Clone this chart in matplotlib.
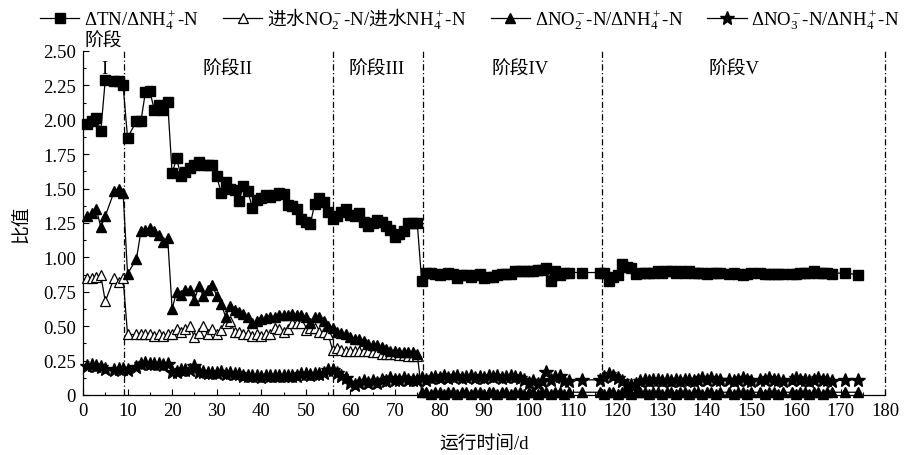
import matplotlib
matplotlib.use("Agg")
import matplotlib.pyplot as plt
from matplotlib.ticker import MultipleLocator, FuncFormatter

plt.rcParams['font.family'] = ['Liberation Serif', 'Noto Sans CJK SC']
plt.rcParams['mathtext.fontset'] = 'custom'
plt.rcParams['mathtext.rm'] = 'Liberation Serif'
plt.rcParams['mathtext.it'] = 'Liberation Serif:italic'
plt.rcParams['mathtext.sf'] = 'Noto Sans CJK SC'
plt.rcParams['axes.unicode_minus'] = False

# ---------------- data ----------------
days_123 = [1, 2, 3, 4, 5, 7, 8, 9,
            10, 12, 13, 14, 15, 16, 17, 18, 19, 20,
            21, 22, 23, 24, 25, 26, 27, 28, 29, 30,
            31, 32, 33, 34, 35, 36, 37, 38, 39, 40,
            41, 42, 43, 44, 45, 46, 47, 48, 49, 50,
            51, 52, 53, 54, 55,
            56, 57, 58, 59, 60, 61, 62, 63, 64, 65,
            66, 67, 68, 69, 70, 71, 72, 73, 74, 75]

tn_123 = [1.97, 1.99, 2.01, 1.92, 2.29, 2.28, 2.28, 2.25,
          1.87, 1.99, 1.99, 2.20, 2.21, 2.07, 2.11, 2.07, 2.13, 1.61,
          1.72, 1.59, 1.62, 1.65, 1.67, 1.69, 1.67, 1.67, 1.67, 1.59,
          1.47, 1.55, 1.50, 1.49, 1.41, 1.52, 1.48, 1.36, 1.42, 1.43,
          1.45, 1.44, 1.45, 1.47, 1.46, 1.38, 1.37, 1.35, 1.28, 1.26,
          1.24, 1.39, 1.43, 1.40, 1.33,
          1.28, 1.30, 1.33, 1.35, 1.31, 1.30, 1.32, 1.26, 1.23, 1.25,
          1.27, 1.26, 1.23, 1.20, 1.15, 1.17, 1.19, 1.25, 1.25, 1.25]

inf_123 = [0.85, 0.85, 0.86, 0.87, 0.68, 0.85, 0.82, 0.85,
           0.44, 0.44, 0.44, 0.44, 0.44, 0.43, 0.44, 0.43, 0.44, 0.44,
           0.48, 0.46, 0.48, 0.50, 0.42, 0.45, 0.50, 0.44, 0.48, 0.44,
           0.47, 0.52, 0.54, 0.46, 0.455, 0.44, 0.44, 0.43, 0.44, 0.43,
           0.44, 0.44, 0.49, 0.48, 0.46, 0.48, 0.52, 0.52, 0.52, 0.47,
           0.49, 0.49, 0.455, 0.46, 0.44,
           0.33, 0.34, 0.33, 0.32, 0.32, 0.32, 0.32, 0.32, 0.32, 0.31,
           0.31, 0.30, 0.30, 0.30, 0.30, 0.29, 0.29, 0.28, 0.28, 0.28]

no2_123 = [1.30, 1.32, 1.35, 1.22, 1.30, 1.48, 1.50, 1.47,
           0.88, 0.99, 1.19, 1.20, 1.21, 1.19, 1.16, 1.11, 1.14, 0.625,
           0.75, 0.73, 0.76, 0.76, 0.69, 0.79, 0.72, 0.76, 0.80, 0.72,
           0.66, 0.57, 0.65, 0.62, 0.60, 0.59, 0.57, 0.52, 0.54, 0.55,
           0.56, 0.565, 0.57, 0.58, 0.58, 0.58, 0.585, 0.58, 0.58, 0.57,
           0.52, 0.565, 0.565, 0.54, 0.50,
           0.49, 0.455, 0.45, 0.44, 0.42, 0.41, 0.41, 0.395, 0.37, 0.36,
           0.36, 0.35, 0.335, 0.32, 0.32, 0.31, 0.31, 0.31, 0.31, 0.30]

no3_123 = [0.21, 0.22, 0.21, 0.20, 0.19, 0.18, 0.19, 0.19,
           0.185, 0.20, 0.225, 0.23, 0.225, 0.225, 0.225, 0.22, 0.225, 0.165,
           0.17, 0.18, 0.185, 0.185, 0.21, 0.17, 0.165, 0.16, 0.16, 0.16,
           0.17, 0.15, 0.16, 0.15, 0.15, 0.14, 0.135, 0.14, 0.14, 0.13,
           0.14, 0.14, 0.14, 0.14, 0.135, 0.14, 0.14, 0.14, 0.15, 0.15,
           0.145, 0.15, 0.155, 0.16, 0.18,
           0.18, 0.16, 0.14, 0.12, 0.09, 0.07, 0.09, 0.10, 0.09, 0.10,
           0.09, 0.11, 0.10, 0.12, 0.11, 0.11, 0.12, 0.11, 0.11, 0.11]

days_45 = [76, 77, 78, 79, 80, 81, 82, 83, 84, 85,
           86, 87, 88, 89, 90, 91, 92, 93, 94, 95,
           96, 97, 98, 99, 100, 101, 102, 103, 104, 105,
           106, 107, 108, 109, 112, 116, 117, 118, 119, 120,
           121, 122, 123, 124, 125, 126, 127, 128, 129, 130,
           131, 132, 133, 134, 135, 136, 137, 138, 139, 140,
           141, 142, 143, 145, 146, 147, 148, 149, 150, 152,
           153, 154, 155, 156, 157, 159, 160, 161, 162, 163,
           164, 165, 166, 167, 168, 171, 174]

tn_45 = [0.83, 0.89, 0.89, 0.88, 0.87, 0.88, 0.89, 0.88, 0.85, 0.87,
         0.87, 0.86, 0.87, 0.88, 0.85, 0.86, 0.86, 0.87, 0.88, 0.88,
         0.88, 0.90, 0.90, 0.90, 0.90, 0.90, 0.91, 0.91, 0.92, 0.83,
         0.90, 0.87, 0.89, 0.89, 0.89, 0.89, 0.89, 0.83, 0.86, 0.87,
         0.95, 0.93, 0.92, 0.88, 0.89, 0.89, 0.89, 0.89, 0.90, 0.89,
         0.90, 0.90, 0.89, 0.90, 0.89, 0.90, 0.89, 0.89, 0.89, 0.88,
         0.89, 0.89, 0.89, 0.88, 0.89, 0.88, 0.87, 0.88, 0.89, 0.89,
         0.88, 0.88, 0.88, 0.88, 0.88, 0.88, 0.88, 0.89, 0.89, 0.89,
         0.90, 0.89, 0.89, 0.89, 0.88, 0.89, 0.87]

no2_45 = [0.02, 0.02, 0.01, 0.02, 0.02, 0.01, 0.02, 0.02, 0.01, 0.02,
          0.02, 0.01, 0.02, 0.02, 0.01, 0.02, 0.02, 0.01, 0.02, 0.02,
          0.01, 0.02, 0.02, 0.01, 0.02, 0.02, 0.01, 0.02, 0.02, 0.01,
          0.02, 0.02, 0.01, 0.02, 0.02, 0.02, 0.01, 0.02, 0.02, 0.01,
          0.02, 0.02, 0.01, 0.02, 0.02, 0.02, 0.01, 0.02, 0.02, 0.01,
          0.02, 0.02, 0.01, 0.02, 0.02, 0.01, 0.02, 0.02, 0.01, 0.02,
          0.02, 0.01, 0.02, 0.02, 0.01, 0.02, 0.02, 0.01, 0.02, 0.02,
          0.01, 0.02, 0.02, 0.01, 0.02, 0.02, 0.01, 0.02, 0.02, 0.01,
          0.02, 0.02, 0.01, 0.02, 0.02, 0.02, 0.02]

no3_45 = [0.12, 0.11, 0.12, 0.13, 0.12, 0.14, 0.12, 0.13, 0.14, 0.12,
          0.13, 0.14, 0.12, 0.13, 0.12, 0.14, 0.13, 0.14, 0.12, 0.13,
          0.14, 0.13, 0.12, 0.11, 0.09, 0.10, 0.08, 0.10, 0.17, 0.11,
          0.13, 0.14, 0.10, 0.10, 0.11, 0.11, 0.13, 0.15, 0.14, 0.12,
          0.10, 0.07, 0.075, 0.08, 0.10, 0.11, 0.10, 0.11, 0.11, 0.10,
          0.11, 0.10, 0.11, 0.10, 0.11, 0.11, 0.10, 0.11, 0.12, 0.11,
          0.12, 0.11, 0.11, 0.11, 0.10, 0.11, 0.12, 0.11, 0.10, 0.11,
          0.11, 0.12, 0.11, 0.11, 0.10, 0.11, 0.12, 0.11, 0.11, 0.10,
          0.11, 0.12, 0.11, 0.11, 0.10, 0.11, 0.11]

stage_bounds = [9.3, 56.2, 76.2, 116.4, 180]
stage_labels = ['I', '阶段II', '阶段III', '阶段IV', '阶段V']
stage_label_x = [4.8, 32.5, 66, 98, 146]

labels = ['ΔTN/ΔNH$_4^+$-N',
          r'$\mathsf{进水}$NO$_2^-$-N/$\mathsf{进水}$NH$_4^+$-N',
          'ΔNO$_2^-$-N/ΔNH$_4^+$-N',
          'ΔNO$_3^-$-N/ΔNH$_4^+$-N']

# ---------------- plot ----------------
fig = plt.figure(figsize=(9.06, 4.56), dpi=100)
ax = fig.add_axes([0.0916, 0.1316, 0.8854, 0.7544])

fs = 13.5
lw = 0.9
days_all = days_123 + days_45

ax.plot(days_all, tn_123 + tn_45, color='black', lw=lw, marker='s', ms=6.5,
        mfc='black', mec='black', label=labels[0], clip_on=False, zorder=4)
ax.plot(days_123, inf_123, color='black', lw=lw, marker='^', ms=7.5,
        mfc='white', mec='black', mew=0.9, label=labels[1], clip_on=False, zorder=3)
ax.plot(days_all, no2_123 + no2_45, color='black', lw=lw, marker='^', ms=7.5,
        mfc='black', mec='black', label=labels[2], clip_on=False, zorder=4)
ax.plot(days_all, no3_123 + no3_45, color='black', lw=lw, marker='*', ms=10,
        mfc='black', mec='black', label=labels[3], clip_on=False, zorder=4)

for xb in stage_bounds:
    ax.axvline(xb, color='black', lw=0.9, linestyle=(0, (5, 2, 1, 2)),
               zorder=2, clip_on=False)

for lab, xl in zip(stage_labels, stage_label_x):
    ax.text(xl, 2.37, lab, ha='center', va='center', fontsize=fs)
ax.text(0.3, 2.57, '阶段', ha='left', va='center', fontsize=fs)

ax.set_xlim(0, 180)
ax.set_ylim(0, 2.5)
ax.xaxis.set_major_locator(MultipleLocator(10))
ax.xaxis.set_minor_locator(MultipleLocator(5))
ax.yaxis.set_major_locator(MultipleLocator(0.25))
ax.yaxis.set_minor_locator(MultipleLocator(0.125))
ax.yaxis.set_major_formatter(FuncFormatter(lambda v, p: '0' if abs(v) < 1e-9 else f'{v:.2f}'))
ax.tick_params(which='both', direction='in', labelsize=fs, top=False, right=False)
ax.tick_params(which='major', length=4, width=0.8, pad=5)
ax.tick_params(which='minor', length=2.5, width=0.8)
ax.spines['top'].set_visible(False)
ax.spines['right'].set_visible(False)
for s in ['left', 'bottom']:
    ax.spines[s].set_linewidth(0.9)

ax.set_xlabel('运行时间/d', fontsize=fs, labelpad=12)
ax.set_ylabel('比值', fontsize=fs, labelpad=9)

fig.legend(loc='center left', bbox_to_anchor=(0.044, 0.958), ncol=4, frameon=False,
           fontsize=13.5, handlelength=2.1, handletextpad=0.25, columnspacing=1.3,
           borderaxespad=0, borderpad=0)

fig.savefig('out.png', dpi=100)
